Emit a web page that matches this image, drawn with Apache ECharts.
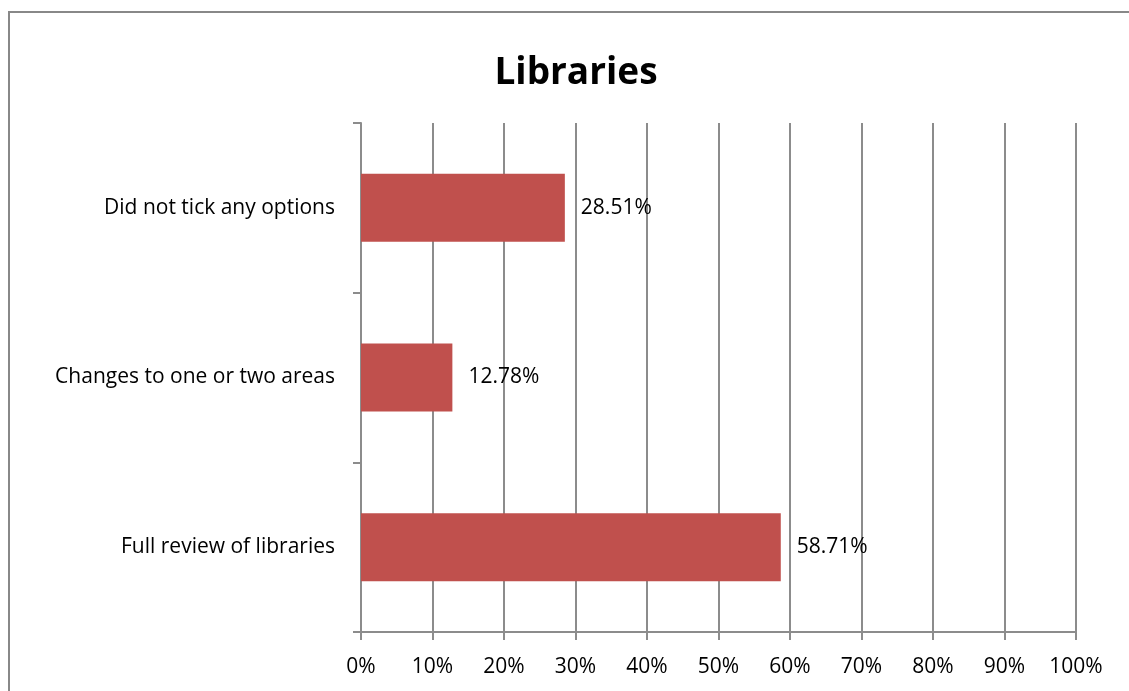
<!DOCTYPE html>
<html>
<head>
<meta charset="utf-8">
<script src="https://cdn.jsdelivr.net/npm/echarts@6/dist/echarts.min.js"></script>
<style>
html,body{margin:0;padding:0;background:#fff;}
#chart{width:1129px;height:691px;}
</style>
</head>
<body>
<div id="chart"></div>
<script>
const titleText = 'Libraries';
const categories = ['Full review of libraries', 'Changes to one or two areas', 'Did not tick any options'];
const values = [58.71, 12.78, 28.51];
const xTicks = [0, 10, 20, 30, 40, 50, 60, 70, 80, 90, 100];

const FONT = 'Open Sans';
const lineColor = '#8c8c8c';
const chart = echarts.init(document.getElementById('chart'));
chart.setOption({
  animation: false,
  backgroundColor: '#fff',
  title: {
    text: titleText,
    left: 571, top: 50, textAlign: 'center',
    textStyle: {fontFamily: FONT, fontSize: 37, fontWeight: 'bold', color: '#000'}
  },
  graphic: [{
    type: 'rect', shape: {x: 9, y: 12, width: 1300, height: 900},
    style: {fill: 'none', stroke: '#888', lineWidth: 2}, silent: true, z: -1
  }],
  grid: {left: 361, right: 53, top: 123, bottom: 59, containLabel: false},
  xAxis: {
    type: 'value', min: xTicks[0], max: xTicks[xTicks.length - 1], interval: 10,
    axisLine: {show: true, lineStyle: {color: lineColor, width: 2}},
    axisTick: {show: true, length: 8, lineStyle: {color: lineColor, width: 2}},
    splitLine: {show: true, lineStyle: {color: lineColor, width: 2}},
    axisLabel: {formatter: '{value}%', margin: 25, fontFamily: FONT, fontSize: 21, color: '#000'}
  },
  yAxis: {
    type: 'category', data: categories,
    axisLine: {show: true, lineStyle: {color: lineColor, width: 2}},
    axisTick: {show: true, length: 8, alignWithLabel: false, lineStyle: {color: lineColor, width: 2}},
    axisLabel: {margin: 26, fontFamily: FONT, fontSize: 21, color: '#000'}
  },
  series: [{
    type: 'bar', data: values, barWidth: 68,
    itemStyle: {color: '#C0504D'},
    label: {show: true, position: 'right', distance: 16, formatter: p => p.value.toFixed(2) + '%',
            fontFamily: FONT, fontSize: 21, color: '#000'}
  }]
});
</script>
</body>
</html>
